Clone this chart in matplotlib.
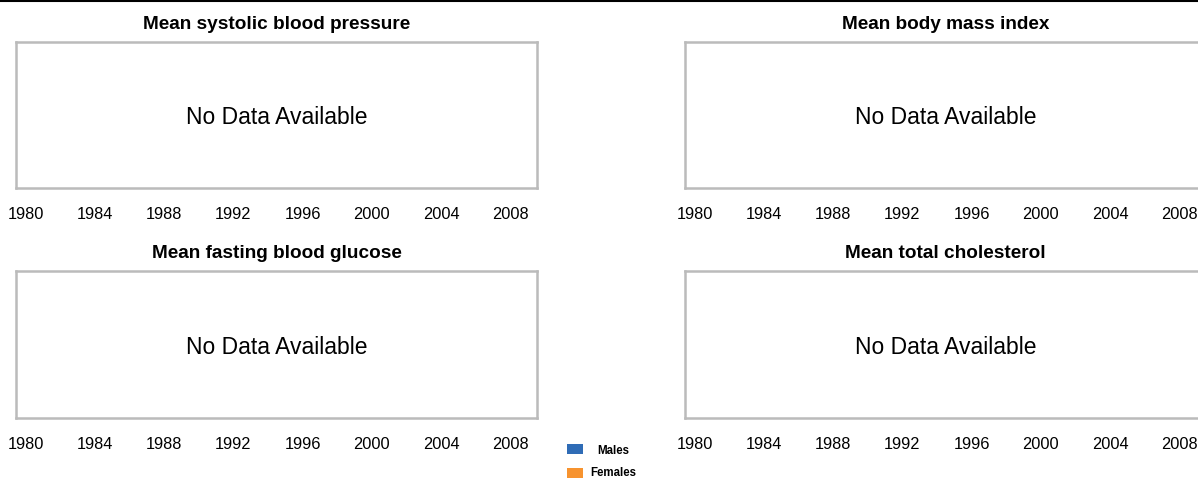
import matplotlib
matplotlib.use("Agg")
import matplotlib.pyplot as plt
from matplotlib.patches import Rectangle
from matplotlib.lines import Line2D

plt.rcParams['font.family'] = ['Liberation Sans', 'DejaVu Sans']

# datos
titulos = ["Mean systolic blood pressure", "Mean body mass index",
           "Mean fasting blood glucose", "Mean total cholesterol"]
anios = [1980, 1984, 1988, 1992, 1996, 2000, 2004, 2008]
series = ["Males", "Females"]
colores = ["#2f6cb6", "#f7932f"]
# no hay datos para ningún panel
valores_hombres = []
valores_mujeres = []

W, H = 1198, 478
fig = plt.figure(figsize=(W / 100, H / 100), dpi=100)

# posiciones de los paneles en pixeles (x0, y_top, ancho, alto)
cajas = [(16, 42, 521, 146), (685, 42, 521, 146),
         (16, 271, 521, 147), (685, 271, 521, 147)]
px_anio = 17.32  # pixeles por año

for titulo, (x0, yt, w, h) in zip(titulos, cajas):
    ax = fig.add_axes([x0 / W, 1 - (yt + h) / H, w / W, h / H])
    ax.plot(anios[:len(valores_hombres)], valores_hombres, color=colores[0])
    ax.plot(anios[:len(valores_mujeres)], valores_mujeres, color=colores[1])
    ax.set_xlim(1980 - 9.5 / px_anio, 1980 + (w - 9.5) / px_anio)
    ax.set_ylim(0, 1)
    ax.set_xticks(anios)
    ax.set_xticklabels([str(a) for a in anios])
    ax.set_yticks([])
    ax.tick_params(axis='x', length=0, pad=14, labelsize=11.8)
    for s in ax.spines.values():
        s.set_color("#bbbbbb")
        s.set_linewidth(1.8)
    ax.set_title(titulo, fontsize=13.7, fontweight='bold', pad=9.5)
    ax.text(0.5, 0.48, "No Data Available", transform=ax.transAxes,
            ha='center', va='center', fontsize=16.5)

# linea negra arriba
fig.add_artist(Line2D([0, 1], [1 - 0.5 / H, 1 - 0.5 / H], color='black', linewidth=1.5))

# leyenda dibujada a mano
for i, (s, c) in enumerate(zip(series, colores)):
    ytop = 444 + i * 24
    fig.add_artist(Rectangle((567 / W, 1 - (ytop + 10) / H), 16 / W, 10 / H,
                             transform=fig.transFigure, facecolor=c, edgecolor='none'))
    fig.text(613 / W, 1 - (ytop + 7.5 - i * 2.5) / H, s, ha='center', va='center',
             fontsize=8.3, fontweight='bold')

fig.savefig("out.png", dpi=100)
